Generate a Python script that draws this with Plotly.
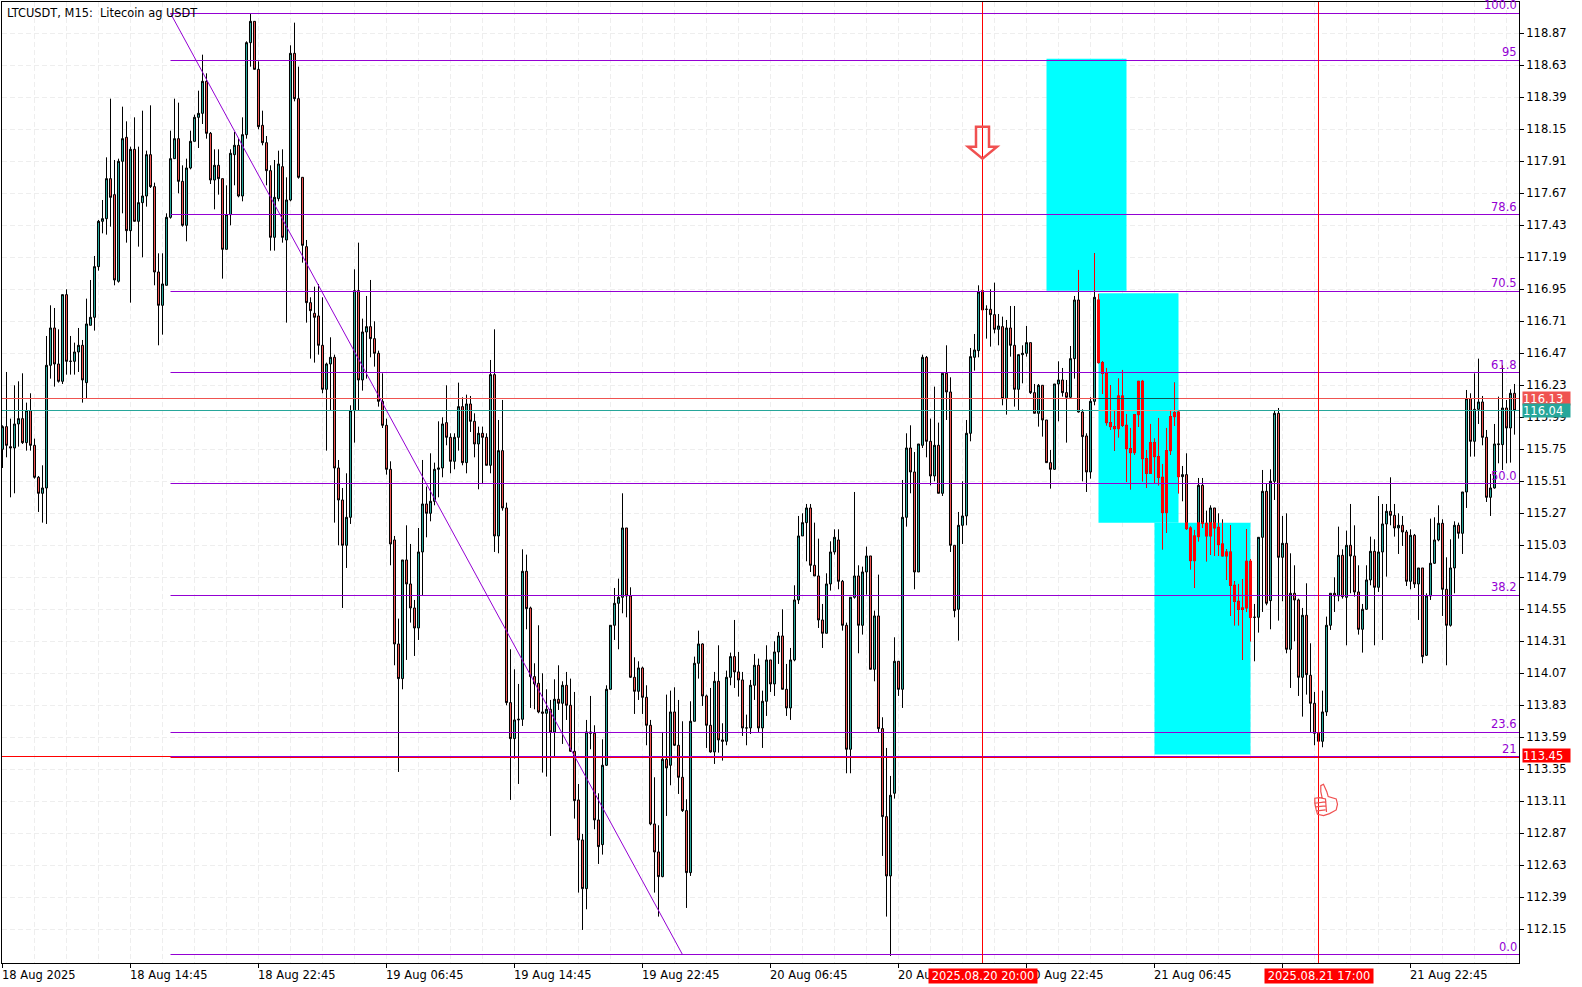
import math
import plotly.graph_objects as go

# ---------- OHLC values, one per 15-minute bar, first bar 18 Aug 06:45 ----------
open_values = [
115.75,115.92,115.77,115.76,115.94,115.98,115.80,116.04,115.78,115.54,
115.42,115.46,116.38,116.66,116.39,116.26,116.91,116.41,116.41,116.48,
116.53,116.25,116.68,116.74,117.12,117.46,117.48,117.78,117.66,117.01,
117.91,118.09,117.39,118.00,117.46,117.60,117.65,117.96,117.72,117.08,
116.83,116.98,117.49,117.93,118.08,117.76,117.43,117.86,118.06,118.24,
118.27,118.51,118.12,117.77,117.88,117.78,117.25,117.51,117.96,118.03,
117.65,118.11,118.80,118.96,118.60,118.18,118.05,117.84,117.34,117.63,
117.87,117.32,117.62,118.72,118.38,117.79,117.27,116.85,116.77,116.75,
116.53,116.20,116.39,116.44,115.61,115.37,115.03,115.24,116.04,116.94,
116.27,116.63,116.67,116.58,116.47,116.11,115.93,115.60,115.07,114.29,
114.03,114.92,114.74,114.56,114.41,114.98,115.34,115.27,115.36,115.60,
115.61,115.95,115.84,115.66,115.84,116.07,115.65,116.09,115.96,115.79,
115.87,115.84,115.63,116.31,115.10,115.74,115.31,113.85,113.58,113.72,
113.725,114.835,114.56,114.045,113.995,113.78,113.77,113.80,113.63,113.875,
113.845,113.98,113.83,113.485,113.12,112.82,112.455,113.63,113.62,112.97,
112.785,113.38,113.95,114.43,114.595,114.64,115.16,114.65,114.04,113.935,
114.11,113.89,113.68,112.94,112.73,112.545,113.425,113.38,113.78,113.53,
113.29,113.04,112.575,113.71,114.145,114.29,113.90,113.68,113.48,114.01,
113.57,113.56,114.04,114.195,114.08,114.02,113.66,113.66,113.98,114.13,
113.66,113.86,114.17,113.99,114.23,114.35,113.95,113.81,114.17,114.62,
115.10,115.20,115.31,114.88,114.80,114.47,114.37,114.74,114.98,115.07,
114.76,114.43,113.50,114.64,114.80,114.43,114.83,114.95,114.10,114.50,
113.655,112.995,112.55,113.17,114.16,113.95,115.24,115.76,115.58,114.83,
115.78,116.44,115.81,115.55,115.78,115.42,116.32,116.18,115.03,114.55,
115.18,115.25,115.87,116.44,116.49,116.94,116.80,116.80,116.76,116.65,
116.67,116.13,116.66,116.53,116.20,116.46,116.47,116.55,116.175,116.02,
116.23,115.97,115.65,115.60,116.24,116.27,116.175,116.14,116.43,116.87,
116.03,115.85,115.58,116.11,116.87,116.40,116.32,115.95,115.92,115.905,
116.15,115.93,115.755,115.725,116.01,116.26,115.68,115.57,115.80,115.695,
115.54,115.275,115.74,115.995,116.03,115.545,115.56,115.16,114.915,115.095,
115.48,115.195,115.10,115.31,115.165,115.04,114.95,114.98,114.73,114.61,
114.56,114.56,114.91,114.49,114.49,115.09,115.435,114.615,115.51,116.02,
114.94,115.045,114.25,114.67,114.62,114.04,114.505,114.055,113.845,113.62,
113.56,113.78,114.43,114.67,114.65,114.955,114.64,115.03,114.95,114.68,
114.40,114.55,114.77,114.985,114.715,114.98,115.19,115.285,115.255,115.16,
115.18,115.13,114.76,115.105,114.74,114.86,114.205,114.65,114.895,115.07,
115.195,114.70,114.43,114.86,115.18,115.12,115.43,116.13,115.81,116.05,
116.105,115.84,115.39,115.46,115.785,115.785,116.06,115.91,116.17,
]
close_values = [
115.92,115.78,115.76,115.94,115.98,115.80,116.04,115.78,115.54,115.42,
115.46,116.38,116.66,116.39,116.26,116.91,116.41,116.41,116.48,116.53,
116.27,116.69,116.74,117.12,117.46,117.48,117.78,117.64,117.02,117.91,
118.08,117.39,118.00,117.46,117.60,117.65,117.96,117.72,117.08,116.83,
116.99,117.49,117.93,118.08,117.76,117.43,117.86,118.06,118.24,118.27,
118.51,118.12,117.77,117.88,117.78,117.25,117.51,117.97,118.03,117.65,
118.11,118.80,118.96,118.60,118.17,118.05,117.84,117.34,117.64,117.89,
117.34,117.62,118.72,118.38,117.79,117.28,116.85,116.79,116.74,116.53,
116.20,116.39,116.44,115.61,115.37,115.03,115.24,116.04,116.94,116.27,
116.63,116.67,116.58,116.47,116.11,115.93,115.60,115.04,114.29,114.03,
114.92,114.74,114.56,114.41,114.98,115.34,115.27,115.36,115.60,115.61,
115.94,115.84,115.66,115.84,116.07,115.65,116.09,115.96,115.79,115.87,
115.84,115.63,116.31,115.10,115.74,115.31,113.85,113.58,113.72,113.725,
114.835,114.555,114.045,113.99,113.78,113.77,113.80,113.63,113.875,113.845,
113.98,113.83,113.485,113.115,112.82,112.455,113.63,113.62,112.97,112.77,
113.38,113.95,114.43,114.595,114.64,115.16,114.65,114.04,113.935,114.11,
113.89,113.68,112.94,112.73,112.545,113.425,113.36,113.78,113.53,113.29,
113.04,112.575,113.71,114.145,114.29,113.90,113.68,113.48,114.01,113.57,
113.56,114.04,114.195,114.08,114.02,113.66,113.66,113.98,114.13,113.66,
113.86,114.17,113.99,114.23,114.35,113.95,113.81,114.17,114.62,115.10,
115.20,115.31,114.88,114.80,114.47,114.37,114.74,114.98,115.09,114.76,
114.43,113.50,114.64,114.80,114.43,114.83,114.95,114.10,114.50,113.655,
112.995,112.55,113.155,114.16,113.95,115.24,115.76,115.58,114.83,115.79,
116.44,115.81,115.55,115.78,115.42,116.32,116.18,115.03,114.54,115.18,
115.25,115.87,116.445,116.495,116.93,116.795,116.80,116.76,116.65,116.675,
116.13,116.66,116.53,116.20,116.46,116.47,116.55,116.175,116.02,116.23,
115.97,115.65,115.60,116.24,116.27,116.175,116.14,116.43,116.87,116.03,
115.845,115.58,116.11,116.89,116.40,116.32,115.95,115.92,115.905,116.15,
115.93,115.755,115.725,116.01,116.26,115.68,115.57,115.80,115.695,115.54,
115.275,115.74,115.995,116.025,115.545,115.56,115.155,114.915,115.10,115.48,
115.195,115.10,115.31,115.16,115.035,114.95,114.98,114.73,114.61,114.55,
114.55,114.91,114.49,114.49,115.09,115.435,114.595,115.51,116.02,114.94,
115.045,114.25,114.67,114.62,114.04,114.505,114.06,113.845,113.62,113.56,
113.78,114.43,114.67,114.65,114.955,114.645,115.03,114.95,114.68,114.40,
114.55,114.77,114.985,114.715,114.98,115.19,115.285,115.255,115.16,115.18,
115.13,114.76,115.105,114.74,114.86,114.195,114.65,114.895,115.07,115.195,
114.70,114.43,114.86,115.18,115.12,115.43,116.13,115.81,116.05,116.105,
115.84,115.39,115.46,115.79,115.79,116.06,115.91,116.17,116.04,
]
high_values = [
115.93,116.33,115.98,116.23,116.26,116.32,116.10,116.17,115.83,115.55,
115.63,116.60,116.83,116.81,116.65,116.91,116.95,116.60,116.55,116.66,
116.57,116.88,117.02,117.20,117.47,117.62,117.94,118.38,117.92,117.93,
118.32,118.21,118.02,118.24,118.02,118.29,117.99,118.33,117.75,117.22,
117.22,117.52,118.14,118.38,118.35,117.88,117.93,118.14,118.26,118.44,
118.71,118.57,118.13,118.00,118.00,117.78,117.73,118.00,118.13,118.08,
118.24,118.81,119.02,118.96,118.66,118.29,118.10,117.88,117.92,117.99,
118.00,117.79,118.78,118.95,118.62,117.79,117.32,116.89,116.97,116.99,
116.89,116.40,116.59,116.46,115.67,115.46,115.57,116.08,117.10,117.30,
116.73,116.90,117.02,116.71,116.49,116.32,115.98,115.66,115.10,114.48,
114.92,115.18,115.04,114.62,115.16,115.67,115.47,115.72,115.65,115.96,
115.99,116.23,115.87,115.87,116.25,116.14,116.16,116.15,116.02,115.92,
115.92,115.87,116.42,116.65,115.97,116.12,115.35,114.25,114.10,113.99,
115.00,114.96,114.57,114.145,114.43,114.07,113.95,113.87,114.025,114.13,
114.01,114.08,114.03,113.93,113.24,112.865,113.72,113.90,113.68,113.17,
113.575,113.98,114.43,114.71,114.78,115.42,115.16,114.715,114.19,114.16,
114.12,113.98,113.72,113.29,112.93,113.63,113.91,113.94,113.965,113.87,
113.71,113.125,113.86,114.195,114.39,114.295,113.91,113.96,114.08,114.28,
113.695,114.09,114.225,114.47,114.23,114.08,113.76,114.02,114.215,114.18,
113.94,114.28,114.17,114.31,114.38,114.55,114.14,114.26,114.73,115.25,
115.27,115.34,115.34,115.20,115.08,114.59,114.82,115.06,115.15,115.15,
114.77,114.45,114.64,115.43,114.88,114.87,115.02,114.95,114.54,114.81,
113.74,113.51,113.30,114.34,114.16,115.52,115.87,115.93,115.73,115.79,
116.46,116.45,115.98,116.22,115.95,116.32,116.53,116.29,115.03,115.28,
115.51,115.97,116.51,116.615,116.98,116.945,116.83,116.95,117.00,116.765,
116.745,116.72,116.825,116.825,116.46,116.53,116.675,116.55,116.24,116.24,
116.23,115.97,115.745,116.24,116.41,116.36,116.27,116.525,116.90,117.095,
116.05,115.87,116.14,117.22,116.915,116.41,116.36,116.23,116.045,116.28,
116.345,116.015,115.91,116.015,116.26,116.27,115.745,115.94,115.83,115.985,
115.64,115.91,116.045,116.25,116.045,115.625,115.72,115.17,115.145,115.535,
115.535,115.29,115.33,115.31,115.27,115.225,115.00,115.18,114.76,114.74,
114.775,115.15,114.925,114.59,115.09,115.595,115.495,115.60,116.04,116.06,
115.25,115.27,114.97,114.88,114.63,114.56,114.745,114.295,113.93,113.62,
113.94,114.495,114.67,114.79,115.17,115.00,115.14,115.34,115.18,114.88,
114.59,114.88,115.095,115.075,115.40,115.34,115.34,115.54,115.34,115.27,
115.25,115.145,115.15,115.115,114.86,114.86,114.67,115.23,115.24,115.33,
115.225,114.94,115.075,115.21,115.20,115.43,116.195,116.17,116.32,116.43,
116.15,115.895,115.565,115.94,116.145,116.38,116.12,116.20,116.24,
]
low_values = [
115.61,115.69,115.39,115.42,115.77,115.79,115.74,115.74,115.53,115.28,
115.20,115.19,116.28,116.22,116.25,116.24,116.31,116.31,116.31,116.33,
116.10,116.13,116.68,116.64,117.09,117.37,117.36,117.42,116.98,117.00,
117.52,117.30,116.85,117.46,117.27,117.19,117.57,117.71,116.98,116.53,
116.61,116.98,117.48,117.93,117.67,117.42,117.31,117.85,118.06,118.01,
118.19,118.08,117.74,117.55,117.66,117.03,117.25,117.43,117.73,117.64,
117.61,118.08,118.62,118.60,118.15,118.03,117.73,117.24,117.24,117.61,
117.30,116.70,117.61,118.36,117.78,117.15,116.70,116.43,116.40,116.46,
116.17,115.74,116.04,115.20,115.03,114.56,114.86,115.19,115.80,116.04,
116.19,116.28,116.44,116.37,116.07,115.91,115.56,114.88,114.13,113.33,
113.95,114.17,114.45,114.20,114.32,114.65,115.09,115.21,115.33,115.39,
115.54,115.78,115.57,115.60,115.74,115.63,115.57,115.88,115.69,115.45,
115.49,115.63,115.57,114.98,114.97,115.29,113.83,113.12,113.43,113.24,
113.675,114.40,113.81,113.80,113.77,113.325,113.295,112.85,113.445,113.795,
113.54,113.72,113.48,112.98,112.425,112.145,112.30,113.50,112.90,112.64,
112.71,113.375,113.945,114.32,114.25,114.52,114.49,114.035,113.765,113.87,
113.765,113.53,112.93,112.425,112.245,112.54,113.00,113.23,113.525,113.165,
113.03,112.31,112.55,113.71,114.03,113.825,113.51,113.475,113.39,113.475,
113.415,113.53,113.98,113.96,113.895,113.60,113.53,113.615,113.87,113.63,
113.51,113.75,113.93,113.90,114.14,113.95,113.75,113.72,114.16,114.59,
115.10,114.91,114.83,114.80,114.41,114.26,114.37,114.69,114.96,114.70,
114.39,113.32,113.32,114.63,114.22,114.36,114.66,114.10,114.01,113.63,
112.70,112.245,111.95,113.13,113.90,113.81,115.17,115.42,114.70,114.83,
115.76,115.69,115.48,115.51,115.42,115.40,115.97,114.98,114.49,114.315,
115.04,115.18,115.81,116.34,116.44,116.60,116.58,116.52,116.62,116.53,
116.08,116.01,116.445,116.07,116.04,116.245,116.445,116.165,116.02,115.92,
115.845,115.65,115.455,115.595,115.96,116.145,115.80,116.13,116.28,116.025,
115.51,115.43,115.53,116.08,116.395,116.165,115.93,115.895,115.74,115.84,
115.92,115.505,115.45,115.71,115.92,115.51,115.46,115.565,115.49,115.48,
115.00,115.125,115.71,115.925,115.42,115.36,115.145,114.85,114.71,115.06,
115.16,114.91,114.96,114.95,114.95,114.95,114.77,114.50,114.43,114.43,
114.17,114.53,114.31,114.16,114.375,114.53,114.58,114.40,115.37,114.465,
114.61,114.22,113.96,114.31,113.90,113.745,113.91,113.63,113.53,113.56,
113.515,113.75,114.395,114.53,114.61,114.63,114.28,114.67,114.645,114.36,
114.225,114.545,114.73,114.28,114.68,114.32,114.795,115.18,115.095,114.965,
115.025,114.725,114.70,114.71,114.47,114.145,114.20,114.62,114.89,115.06,
114.50,114.13,114.42,114.67,115.08,114.965,115.31,115.695,115.695,115.94,
115.78,115.355,115.25,115.455,115.645,115.595,115.645,115.65,115.86,
]

# ---------- annotations of the chart ----------
title_text = "LTCUSDT, M15:  Litecoin ag USDT"
time_labels = {0: "18 Aug 2025", 32: "18 Aug 14:45", 64: "18 Aug 22:45", 96: "19 Aug 06:45",
               128: "19 Aug 14:45", 160: "19 Aug 22:45", 192: "20 Aug 06:45", 224: "20 Aug 14:45",
               256: "20 Aug 22:45", 288: "21 Aug 06:45", 320: "21 Aug 14:45", 352: "21 Aug 22:45"}
price_ticks = [118.87,118.63,118.39,118.15,117.91,117.67,117.43,117.19,116.95,116.71,116.47,116.23,
               115.99,115.75,115.51,115.27,115.03,114.79,114.55,114.31,114.07,113.83,113.59,113.35,
               113.11,112.87,112.63,112.39,112.15]
fib_low, fib_high = 111.96, 119.02
fib_start_bar, fib_end_bar = 42, 170
fib_levels = [0, 21, 23.6, 38.2, 50, 61.8, 70.5, 78.6, 95, 100]
fib_texts = ["0.0", "21", "23.6", "38.2", "50.0", "61.8", "70.5", "78.6", "95", "100.0"]
bid_price, ask_price, stop_price = 116.04, 116.13, 113.45
event_bars = {245: "2025.08.20 20:00", 329: "2025.08.21 17:00"}
boxes = [(261, 281, 116.94, 118.68), (274, 294, 115.20, 116.92), (288, 312, 113.46, 115.20)]
arrow_bar, arrow_price = 245, 117.93
hand_bar, hand_price = 329, 113.12

RED, TEAL, PURPLE = "#ef5350", "#26a69a", "#9400d3"
XOR_RED, XOR_TEAL = "#105350", "#d9a69a"   # candle colours as they turn out on a box
X_MIN, X_MAX = -0.125, 379.125
Y_MIN, Y_MAX = 111.897, 119.105
PLOT_H = 961
FONT = "DejaVu Sans"
bars = list(range(len(open_values)))


def snap(price):
    """Nudge a price so that its 1px horizontal line falls on one whole pixel row."""
    scale = PLOT_H / (Y_MAX - Y_MIN)
    row = math.floor((Y_MAX - price) * scale) + 0.5
    return Y_MAX - row / scale


fig = go.Figure()
fig.add_trace(go.Candlestick(
    x=bars, open=open_values, high=high_values, low=low_values, close=close_values,
    increasing=dict(fillcolor=TEAL, line=dict(color="black", width=1)),
    decreasing=dict(fillcolor=RED, line=dict(color="black", width=1)),
    whiskerwidth=0, hoverinfo="skip", showlegend=False))

# parts of candles that lie on a box
wx, wy, bx, bo, bh, bl, bc = [], [], [], [], [], [], []
for a, b, lo, hi in boxes:
    for i in range(a, b + 1):
        top, bot = min(high_values[i], hi), max(low_values[i], lo)
        if top <= bot:
            continue
        wx += [i, i, None]
        wy += [bot, top, None]
        o, c = open_values[i], close_values[i]
        if max(o, c) > lo and min(o, c) < hi:
            o2, c2 = min(max(o, lo), hi), min(max(c, lo), hi)
            bx.append(i); bo.append(o2); bc.append(c2)
            bh.append(max(o2, c2)); bl.append(min(o2, c2))
fig.add_trace(go.Scatter(x=wx, y=wy, mode="lines", line=dict(color="#ff0000", width=1),
                         hoverinfo="skip", showlegend=False))
fig.add_trace(go.Candlestick(
    x=bx, open=bo, high=bh, low=bl, close=bc,
    increasing=dict(fillcolor=XOR_TEAL, line=dict(color="#ff0000", width=1)),
    decreasing=dict(fillcolor=XOR_RED, line=dict(color="#ff0000", width=1)),
    whiskerwidth=0, hoverinfo="skip", showlegend=False))

shapes, notes = [], []
for a, b, lo, hi in boxes:
    shapes.append(dict(type="rect", x0=a, x1=b, y0=lo, y1=hi, fillcolor="#00ffff",
                       line=dict(width=0), layer="between"))


def hline(price, x0, x1, color, width=1):
    y = snap(price)
    shapes.append(dict(type="line", x0=x0, x1=x1, y0=y, y1=y, layer="above",
                       line=dict(color=color, width=width)))


hline(ask_price, X_MIN, X_MAX, RED)
hline(bid_price, X_MIN, X_MAX, TEAL)
hline(ask_price, boxes[1][0], boxes[1][1], XOR_RED)
hline(bid_price, boxes[1][0], boxes[1][1], XOR_TEAL)
hline(stop_price - 0.005, X_MIN, X_MAX, "#ff0000")
hline(stop_price - 0.012, fib_start_bar, X_MAX, "#ff0000")

for lvl, txt in zip(fib_levels, fib_texts):
    p = fib_low + (fib_high - fib_low) * lvl / 100
    hline(p, fib_start_bar, X_MAX, PURPLE)
    notes.append(dict(text=txt, xref="paper", x=1, xshift=0, y=p, yref="y", xanchor="right",
                      yanchor="bottom", yshift=-1, showarrow=False,
                      font=dict(family=FONT, size=11.5, color=PURPLE)))
shapes.append(dict(type="line", x0=fib_start_bar, x1=fib_end_bar, y0=fib_high, y1=fib_low,
                   layer="above", line=dict(color=PURPLE, width=1)))

for i in event_bars:
    shapes.append(dict(type="line", x0=i, x1=i, yref="paper", y0=0, y1=1, layer="above",
                       line=dict(color="#ff0000", width=1)))

shapes.append(dict(type="path", layer="above", xsizemode="pixel", ysizemode="pixel",
                   xanchor=arrow_bar, yanchor=arrow_price,
                   path="M -6.5 32 L 6.5 32 L 6.5 12 L 14.5 12 L 0 0 L -14.5 12 L -6.5 12 Z",
                   line=dict(color="#f05050", width=2.5)))
shapes.append(dict(type="path", layer="above", xsizemode="pixel", ysizemode="pixel",
                   xanchor=hand_bar, yanchor=hand_price,
                   path=("M 2.3 14.3 L 5 15.7 L 8.3 8.3 L 9.7 3.3 L 17.7 1 L 19 -4.3 L 17.7 -10 L 11 -13.7 "
                         "L 5 -15.7 L -1 -14.3 L -2.3 -10 L -3.7 -3.3 L -3.7 1.7 L 1 2.3 L 3.7 1.7 L 2.3 8.3 Z "
                         "M -3.7 -3.3 L 7 -2 M -2.7 -7 L 7 -6 M -1.5 -11 L 7 -10 M 1 2.3 L 7 1 L 8 -12"),
                   line=dict(color="#f05050", width=1.2)))

notes.append(dict(text=title_text, xref="paper", yref="paper", x=0, xshift=3, y=1, yshift=-2,
                  xanchor="left", yanchor="top", showarrow=False,
                  font=dict(family=FONT, size=11.4, color="black")))
for i, txt in time_labels.items():
    notes.append(dict(text=txt, x=i, xref="x", yref="paper", y=0, yshift=-3, xshift=-3, xanchor="left",
                      yanchor="top", showarrow=False, font=dict(family=FONT, size=11.5, color="black")))
for i, txt in event_bars.items():
    notes.append(dict(text=txt, x=i, xref="x", yref="paper", y=0, yshift=-5, xanchor="center",
                      yanchor="top", showarrow=False, bgcolor="#ff0000", width=108, height=14,
                      borderpad=0, font=dict(family=FONT, size=11.5, color="white")))
for p, col in ((ask_price, RED), (bid_price, TEAL), (stop_price, "#ff0000")):
    notes.append(dict(text=f"{p:.2f}", xref="paper", x=1, xshift=3, y=p, yref="y", xanchor="left",
                      yanchor="middle", showarrow=False, bgcolor=col, width=47, height=13,
                      align="left", borderpad=0, font=dict(family=FONT, size=11.5, color="white")))

fig.update_layout(
    width=1582, height=987, margin=dict(l=2, r=63, t=2, b=24, pad=0), boxgap=0.28,
    paper_bgcolor="white", plot_bgcolor="white", shapes=shapes, annotations=notes,
    showlegend=False, hovermode=False, font=dict(family=FONT, size=11.5, color="black"),
    xaxis=dict(range=[X_MIN, X_MAX], rangeslider=dict(visible=False), tickmode="linear", tick0=0, dtick=32,
               showticklabels=False, ticks="outside", ticklen=4, tickcolor="black", zeroline=False,
               showline=True, linecolor="black", linewidth=1, mirror=True,
               showgrid=True, gridcolor="#eeeeee", griddash="5px,3px",
               minor=dict(tick0=0, dtick=8, showgrid=True, gridcolor="#eeeeee", griddash="5px,3px", ticks="")),
    yaxis=dict(range=[Y_MIN, Y_MAX], side="right", tickmode="array", tickvals=price_ticks,
               ticktext=[f"{v:.2f}" for v in price_ticks], ticks="outside", ticklen=4, tickcolor="black",
               tickfont=dict(family=FONT, size=11.5, color="black"), zeroline=False,
               showline=True, linecolor="black", linewidth=1, mirror=True,
               showgrid=True, gridcolor="#eeeeee", griddash="5px,3px"),
)
fig.write_html("out.html", config=dict(displayModeBar=False),
               post_script="document.body.style.margin='0';document.body.style.overflow='hidden';")
